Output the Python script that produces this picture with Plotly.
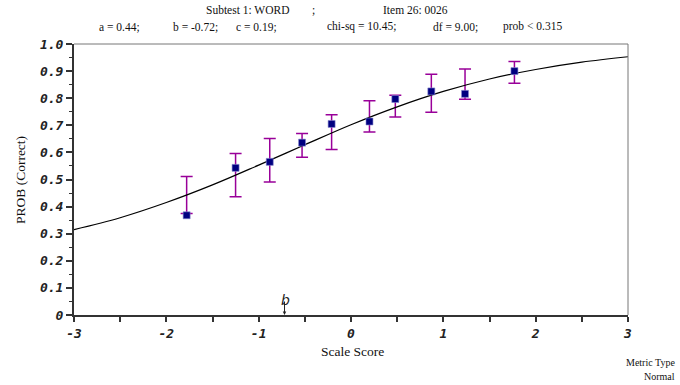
import plotly.graph_objects as go

# ---- data ----
score_x = [-1.78, -1.25, -0.88, -0.53, -0.21, 0.20, 0.48, 0.87, 1.235, 1.77]
observed = [0.368, 0.543, 0.565, 0.636, 0.705, 0.714, 0.797, 0.825, 0.816, 0.900]
model_at_x = [0.443, 0.516, 0.571, 0.626, 0.675, 0.733, 0.771, 0.818, 0.852, 0.895]
err_half = [0.068, 0.080, 0.080, 0.044, 0.064, 0.058, 0.040, 0.070, 0.056, 0.040]

curve_x = [-3, -2.5, -2, -1.5, -1, -0.5, 0, 0.5, 1, 1.5, 2, 2.5, 3]
curve_y = [0.315, 0.359, 0.415, 0.480, 0.553, 0.628, 0.702, 0.768, 0.825, 0.871, 0.906, 0.933, 0.953]

b_param = -0.72
y_tickvals = [0, 0.1, 0.2, 0.3, 0.4, 0.5, 0.6, 0.7, 0.8, 0.9, 1.0]
y_ticktext = ["0", "0.1", "0.2", "0.3", "0.4", "0.5", "0.6", "0.7", "0.8", "0.9", "1.0"]
x_tickvals = [-3, -2, -1, 0, 1, 2, 3]
x_ticktext = ["-3", "-2", "-1", "0", "1", "2", "3"]

title1 = ["Subtest 1: WORD", ";", "Item 26: 0026"]
title2 = ["a = 0.44;", "b = -0.72;", "c = 0.19;", "chi-sq = 10.45;", "df = 9.00;", "prob < 0.315"]

# ---- geometry ----
W, H = 680, 385
L, R, T, B = 74, 628, 44, 315
PW, PH = R - L, B - T


def px(x):
    return (x - L) / PW


def py(y):
    return (B - y) / PH


tick_font = dict(family="DejaVu Sans Mono", size=13, color="#222", weight="bold", style="italic")
serif = "Liberation Serif"

fig = go.Figure()

# error bars centred on the model curve
fig.add_trace(go.Scatter(
    x=score_x, y=model_at_x, mode="markers",
    marker=dict(size=1, color="rgba(0,0,0,0)"),
    error_y=dict(type="data", array=err_half, symmetric=True,
                 color="#990099", thickness=1.5, width=6),
    hoverinfo="skip", showlegend=False))

# model curve
fig.add_trace(go.Scatter(
    x=curve_x, y=curve_y, mode="lines", line=dict(color="black", width=1.2, shape="spline"),
    showlegend=False))

# observed points
fig.add_trace(go.Scatter(
    x=score_x, y=observed, mode="markers",
    marker=dict(symbol="square", size=7, color="#000080",
                line=dict(color="#8a8ad0", width=0.6)),
    showlegend=False))

fig.update_xaxes(range=[-3, 3], tickvals=x_tickvals, ticktext=x_ticktext,
                 showgrid=False, zeroline=False, showline=True, linecolor="#333", linewidth=2,
                 ticks="outside", ticklen=5, tickwidth=1.5, tickcolor="#333",
                 minor=dict(dtick=0.5, tick0=-3, ticks="outside", ticklen=5, tickwidth=1.5, tickcolor="#333"),
                 tickfont=tick_font)
fig.update_yaxes(range=[0, 1.0], tickvals=y_tickvals, ticktext=y_ticktext,
                 showgrid=False, zeroline=False, showline=True, linecolor="#333", linewidth=2,
                 ticks="outside", ticklen=6, tickwidth=1.5, tickcolor="#333",
                 minor=dict(dtick=0.05, tick0=0, ticks="outside", ticklen=3, tickwidth=1, tickcolor="#333"),
                 tickfont=tick_font)

shapes = [
    dict(type="line", xref="paper", yref="paper", x0=0, x1=1, y0=1, y1=1,
         line=dict(color="#777", width=1)),
    dict(type="line", xref="paper", yref="paper", x0=1, x1=1, y0=0, y1=1,
         line=dict(color="#777", width=1)),
]

ann = []
# b marker arrow
ann.append(dict(x=b_param, y=0, xref="x", yref="y", text="", showarrow=True,
                ax=0, ay=-15, arrowhead=2, arrowsize=0.7, arrowwidth=1, arrowcolor="#222"))
ann.append(dict(x=b_param, y=0, xref="x", yref="y", text="b", showarrow=False,
                yshift=15, xshift=1,
                font=dict(family="DejaVu Sans", size=14, color="#222", style="italic")))

t1_x = [204, 310, 381]
for txt, x0 in zip(title1, t1_x):
    ann.append(dict(x=px(x0), y=py(10), xref="paper", yref="paper", text=txt,
                    showarrow=False, xanchor="left", yanchor="middle",
                    font=dict(family=serif, size=11.5, color="#111")))
t2_x = [97, 171, 234, 325, 431, 501]
for txt, x0 in zip(title2, t2_x):
    ann.append(dict(x=px(x0), y=py(27), xref="paper", yref="paper", text=txt,
                    showarrow=False, xanchor="left", yanchor="middle",
                    font=dict(family=serif, size=11.5, color="#111")))

ann.append(dict(x=px(352), y=py(351), xref="paper", yref="paper", text="Scale Score",
                showarrow=False, xanchor="center", yanchor="middle",
                font=dict(family=serif, size=13.5, color="#111")))
ann.append(dict(x=px(20), y=py(180), xref="paper", yref="paper", text="PROB (Correct)",
                showarrow=False, xanchor="center", yanchor="middle", textangle=-90,
                font=dict(family=serif, size=13.5, color="#111")))
ann.append(dict(x=px(677), y=py(362), xref="paper", yref="paper", text="Metric Type",
                showarrow=False, xanchor="right", yanchor="middle",
                font=dict(family=serif, size=10, color="#111")))
ann.append(dict(x=px(677), y=py(376), xref="paper", yref="paper", text="Normal",
                showarrow=False, xanchor="right", yanchor="middle",
                font=dict(family=serif, size=10, color="#111")))

fig.update_layout(width=W, height=H, margin=dict(l=L, r=W - R, t=T, b=H - B),
                  plot_bgcolor="white", paper_bgcolor="white",
                  shapes=shapes, annotations=ann, showlegend=False)

fig.write_html("out.html", config={"displayModeBar": False},
               post_script="document.body.style.margin='0';document.body.style.padding='0';document.body.style.overflow='hidden';")
